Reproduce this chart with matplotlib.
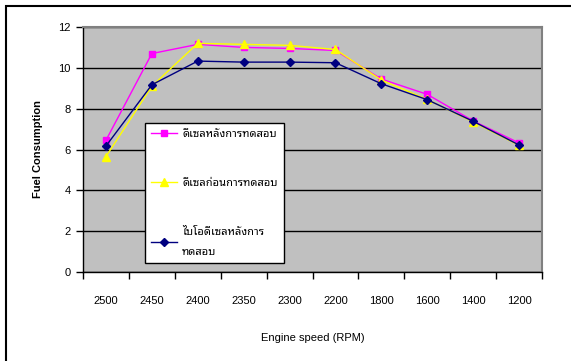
import matplotlib
matplotlib.use("Agg")
import matplotlib.pyplot as plt
from matplotlib.patches import Rectangle
import numpy as np

rpm = ["2500", "2450", "2400", "2350", "2300", "2200", "1800", "1600", "1400", "1200"]
diesel_after = [6.45, 10.7, 11.15, 11.0, 10.95, 10.85, 9.45, 8.7, 7.4, 6.32]
diesel_before = [5.65, 9.1, 11.2, 11.15, 11.1, 10.9, 9.4, 8.45, 7.35, 6.2]
biodiesel_after = [6.17, 9.17, 10.33, 10.28, 10.28, 10.25, 9.22, 8.44, 7.38, 6.22]

labels = ["ดีเซลหลังการทดสอบ", "ดีเซลก่อนการทดสอบ", "ไบโอดีเซลหลังการ\nทดสอบ"]

plt.rcParams["font.family"] = ["Liberation Sans", "Noto Sans Thai Looped"]

fig = plt.figure(figsize=(5.71, 3.61), dpi=100)
ax = fig.add_axes([83 / 571, 89 / 361, 459 / 571, 245 / 361])
ax.set_facecolor("#c0c0c0")

x = np.arange(len(rpm))
ax.plot(x, diesel_after, color="#ff00ff", marker="s", markersize=4.5, lw=1, label=labels[0], zorder=3)
ax.plot(x, diesel_before, color="#ffff00", marker="^", markersize=5.5, lw=1, label=labels[1], zorder=3)
ax.plot(x, biodiesel_after, color="#000080", marker="D", markersize=4, lw=1, label=labels[2], zorder=3)

ax.set_xlim(-0.5, len(rpm) - 0.5)
ax.set_ylim(0, 12)
ax.set_yticks(range(0, 13, 2))
ax.grid(axis="y", color="black", lw=1)
ax.set_axisbelow(True)

# category labels centred, tick marks on the boundaries
ax.set_xticks(x)
ax.set_xticklabels(rpm)
ax.set_xticks(np.arange(-0.5, len(rpm)), minor=True)
ax.tick_params(axis="x", which="major", length=0, pad=17, labelsize=8)
ax.tick_params(axis="x", which="minor", length=5, width=1, direction="out")
ax.tick_params(axis="y", length=5, width=1, labelsize=8, pad=4)

for s in ["top", "right"]:
    ax.spines[s].set_color("#808080")
    ax.spines[s].set_linewidth(1.5)
for s in ["left", "bottom"]:
    ax.spines[s].set_color("black")
    ax.spines[s].set_linewidth(1)

ax.set_xlabel("Engine speed (RPM)", fontsize=8, labelpad=20)
ax.set_ylabel("Fuel Consumption", fontsize=8, fontweight="bold", labelpad=11)

leg = ax.legend(loc="upper left", bbox_to_anchor=(0.135, 0.608), fontsize=8,
                frameon=True, fancybox=False, edgecolor="black", framealpha=1,
                borderpad=0.55, labelspacing=3.5, handlelength=2.3, handletextpad=0.5,
                borderaxespad=0)
leg.get_frame().set_linewidth(1)
leg.get_texts()[2].set_linespacing(2.2)

# outer chart border
fig.patches.append(Rectangle((6 / 571, -0.2), 1.2, 1.2 - 6 / 361,
                             transform=fig.transFigure, fill=False, edgecolor="black", lw=1.5))

fig.savefig("out.png", dpi=100)
